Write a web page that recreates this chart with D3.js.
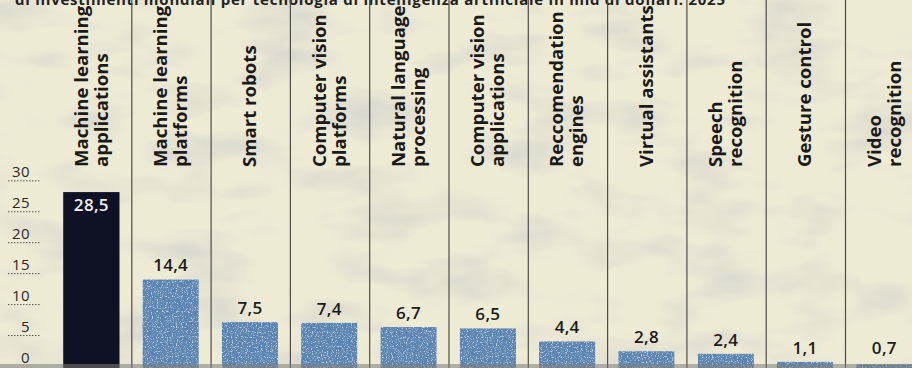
<!DOCTYPE html>
<html>
<head>
<meta charset="utf-8">
<script src="https://cdn.jsdelivr.net/npm/d3@7"></script>
<style>
  html, body { margin: 0; padding: 0; background: #ece9d4; }
  svg { display: block; }
</style>
</head>
<body>
<figure id="bar" style="margin:0"></figure>
<script>
// chart data
const categories = [
  ["Machine learning", "applications"],
  ["Machine learning", "platforms"],
  ["Smart robots"],
  ["Computer vision", "platforms"],
  ["Natural language", "processing"],
  ["Computer vision", "applications"],
  ["Reccomendation", "engines"],
  ["Virtual assistants"],
  ["Speech", "recognition"],
  ["Gesture control"],
  ["Video", "recognition"]
];
const values = [28.5, 14.4, 7.5, 7.4, 6.7, 6.5, 4.4, 2.8, 2.4, 1.1, 0.7];
const valueLabels = ["28,5", "14,4", "7,5", "7,4", "6,7", "6,5", "4,4", "2,8", "2,4", "1,1", "0,7"];
const yTicks = [0, 5, 10, 15, 20, 25, 30];
const title = "di investimenti mondiali per tecnologia di intelligenza artificiale in mld di dollari. 2025";

const width = 912, height = 368;
const keys = categories.map(c => c.join(" "));

const svg = d3.select("figure#bar")
  .append("svg")
  .attr("width", width)
  .attr("height", height);

// paper texture
const defs = svg.append("defs");
const f = defs.append("filter").attr("id", "paper").attr("x", 0).attr("y", 0).attr("width", "100%").attr("height", "100%");
f.append("feTurbulence").attr("type", "fractalNoise").attr("baseFrequency", "0.012 0.03").attr("numOctaves", 3).attr("seed", 4);
f.append("feColorMatrix").attr("type", "matrix")
  .attr("values", "0 0 0 0 0.55  0 0 0 0 0.55  0 0 0 0 0.57  1.8 0 0 0 -0.8");

// speckle for the blue bars
const fb = defs.append("filter").attr("id", "grain").attr("x", 0).attr("y", 0).attr("width", "100%").attr("height", "100%");
fb.append("feTurbulence").attr("type", "fractalNoise").attr("baseFrequency", 0.8).attr("numOctaves", 1).attr("seed", 2).attr("result", "n");
fb.append("feColorMatrix").attr("in", "n").attr("type", "matrix")
  .attr("values", "0 0 0 0 0.15  0 0 0 0 0.25  0 0 0 0 0.45  3.5 0 0 0 -1.7").attr("result", "dark");
fb.append("feColorMatrix").attr("in", "n").attr("type", "matrix")
  .attr("values", "0 0 0 0 0.72  0 0 0 0 0.82  0 0 0 0 0.92  -3.5 0 0 0 1.6").attr("result", "light");
fb.append("feMerge").attr("result", "sp").call(m => {
  m.append("feMergeNode").attr("in", "SourceGraphic");
  m.append("feMergeNode").attr("in", "dark");
  m.append("feMergeNode").attr("in", "light");
});
fb.append("feComposite").attr("in", "sp").attr("in2", "SourceGraphic").attr("operator", "in");

svg.append("rect").attr("width", width).attr("height", height).attr("fill", "#eeebd5");
svg.append("rect").attr("width", width).attr("height", height).attr("filter", "url(#paper)").attr("opacity", 0.6);

// scales
const x = d3.scaleBand()
  .domain(keys)
  .range([52.5, 52.5 + 79.3 * keys.length])
  .padding(0);

const y = d3.scaleLinear()
  .domain([0, 30])
  .range([368.5, 182.8]);

// title (cut at the top, as in the page scan)
svg.append("text")
  .attr("x", 15).attr("y", 5)
  .attr("textLength", 710)
  .attr("font-family", "Open Sans, sans-serif")
  .attr("font-weight", 700)
  .attr("font-size", 15)
  .attr("fill", "#222")
  .text(title);

// column dividers
svg.selectAll(".divider")
  .data(keys.slice(1))
  .enter()
  .append("line")
  .attr("x1", d => x(d)).attr("x2", d => x(d))
  .attr("y1", 0).attr("y2", height)
  .attr("stroke", "#4d4d48")
  .attr("stroke-width", 1.2);

// y axis ticks
const yAxis = svg.append("g");
yAxis.selectAll(".tl")
  .data(yTicks.filter(t => t > 0))
  .enter()
  .append("line")
  .attr("x1", 8).attr("x2", 40)
  .attr("y1", d => y(d) - 2).attr("y2", d => y(d) - 2)
  .attr("stroke", "#555")
  .attr("stroke-width", 1)
  .attr("stroke-dasharray", "1.5,1.5");
yAxis.selectAll(".tt")
  .data(yTicks)
  .enter()
  .append("text")
  .attr("x", 30)
  .attr("y", d => y(d) - 6)
  .attr("text-anchor", "end")
  .attr("font-family", "Open Sans, sans-serif")
  .attr("font-size", 15)
  .attr("letter-spacing", 0.4)
  .attr("fill", "#2a2a2a")
  .text(d => d);

// bars
const bw = x.bandwidth();
svg.selectAll(".bar")
  .data(values)
  .enter()
  .append("rect")
  .attr("x", (d, i) => x(keys[i]) + bw * 0.135)
  .attr("y", d => y(d))
  .attr("width", bw * 0.71)
  .attr("height", d => y(0) - y(d))
  .attr("fill", (d, i) => i === 0 ? "#0e1224" : "#5784b1")
  .attr("filter", (d, i) => i === 0 ? null : "url(#grain)");

// value labels
svg.selectAll(".val")
  .data(values)
  .enter()
  .append("text")
  .attr("x", (d, i) => x(keys[i]) + bw * 0.135 + bw * 0.355)
  .attr("y", (d, i) => i === 0 ? y(d) + 19 : Math.min(y(d) - 8, 354))
  .attr("text-anchor", "middle")
  .attr("font-family", "Open Sans, sans-serif")
  .attr("font-weight", 600)
  .attr("font-size", 17)
  .attr("letter-spacing", 0.3)
  .attr("fill", (d, i) => i === 0 ? "#f0f0f0" : "#1a1a1a")
  .text((d, i) => valueLabels[i]);

// category labels, rotated
const lab = svg.selectAll(".cat")
  .data(categories)
  .enter()
  .append("g")
  .attr("class", "cat");
lab.each(function (lines, i) {
  const cx = x(keys[i]) + bw / 2 - 2;
  d3.select(this).selectAll("text")
    .data(lines)
    .enter()
    .append("text")
    .attr("transform", (t, j) => "translate(" + (cx + (j - (lines.length - 1) / 2) * 20) + ",167) rotate(-90)")
    .attr("dominant-baseline", "central")
    .attr("font-family", "Open Sans, sans-serif")
    .attr("font-weight", 700)
    .attr("font-size", 18.6)
    .attr("fill", "#1a1a1a")
    .text(t => t);
});

// scan shadow along bottom edge
svg.append("rect")
  .attr("x", 0).attr("y", 364)
  .attr("width", width).attr("height", 4)
  .attr("fill", "#7d7d7a")
  .attr("opacity", 0.55);
</script>
</body>
</html>
